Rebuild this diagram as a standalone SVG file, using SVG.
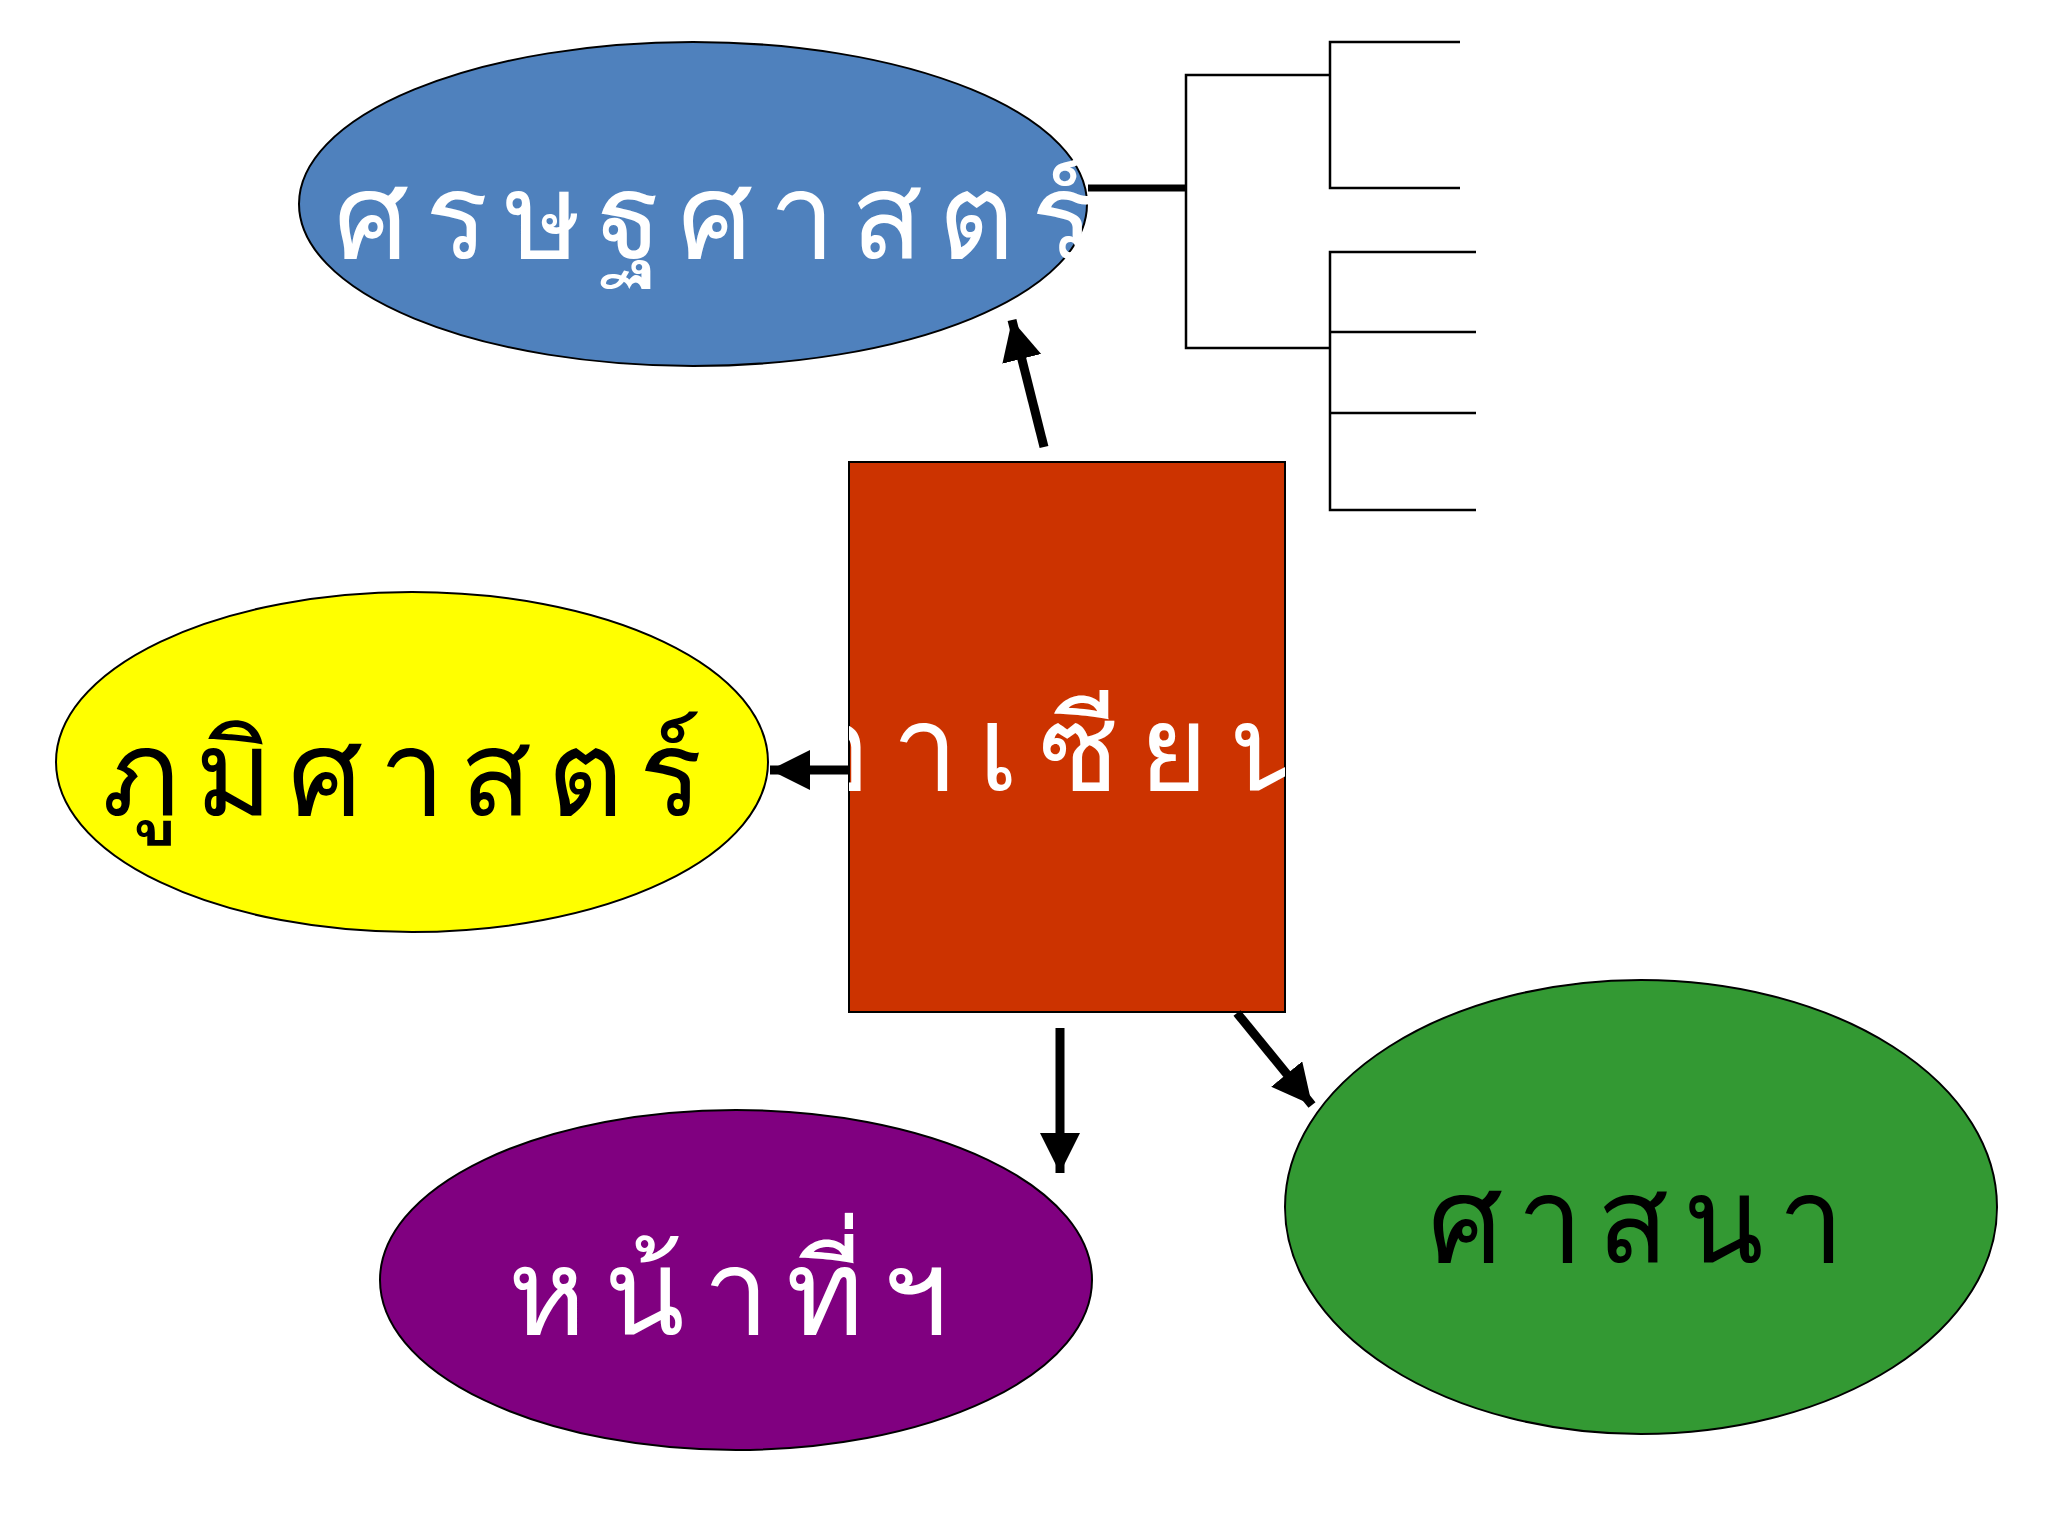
<svg xmlns="http://www.w3.org/2000/svg" width="2048" height="1536" viewBox="0 0 2048 1536">
<style>
.lbl{font-family:"Noto Sans","DejaVu Sans",sans-serif;font-size:118px}
.ln{stroke:#000;stroke-width:2.5;fill:none}
.arr{stroke:#000;stroke-width:9;fill:none;marker-end:url(#ah)}
</style>
<defs>
<marker id="ah" markerUnits="userSpaceOnUse" markerWidth="50" markerHeight="50" refX="40" refY="20" orient="auto">
<path d="M0,0 L40,20 L0,40 Z" fill="#000"/>
</marker>
<clipPath id="rc"><rect x="849" y="462" width="436" height="550"/></clipPath>
</defs>
<rect width="2048" height="1536" fill="#fff"/>
<g id="tree">
<line class="ln" x1="1088" y1="188" x2="1186" y2="188" style="stroke-width:7"/>
<polyline class="ln" points="1330,75 1186,75 1186,348 1330,348"/>
<polyline class="ln" points="1460,42 1330,42 1330,188 1460,188"/>
<polyline class="ln" points="1476,252 1330,252 1330,510 1476,510"/>
<line class="ln" x1="1330" y1="332" x2="1476" y2="332"/>
<line class="ln" x1="1330" y1="413" x2="1476" y2="413"/>
</g>
<g id="economics">
<ellipse cx="693" cy="204" rx="394" ry="162" fill="#4f81bd" stroke="#000" stroke-width="2"/>
<text class="lbl" x="334" y="258" fill="#fff" textLength="760" lengthAdjust="spacing">ศรษฐศาสตร์</text>
</g>
<g id="geography">
<ellipse cx="412" cy="762" rx="356" ry="170" fill="#ffff00" stroke="#000" stroke-width="2"/>
<text class="lbl" x="102" y="815" fill="#000" textLength="600" lengthAdjust="spacing">ภูมิศาสตร์</text>
</g>
<g id="asean">
<rect x="849" y="462" width="436" height="550" fill="#cc3300" stroke="#000" stroke-width="2"/>
<text class="lbl" x="800" y="790" fill="#fff" clip-path="url(#rc)" textLength="510" lengthAdjust="spacing">อาเซียน</text>
</g>
<g id="duties">
<ellipse cx="736" cy="1280" rx="356" ry="170" fill="#800080" stroke="#000" stroke-width="2"/>
<text class="lbl" x="508" y="1334" fill="#fff" textLength="440" lengthAdjust="spacing">หน้าที่ฯ</text>
</g>
<g id="religion">
<ellipse cx="1641" cy="1207" rx="356" ry="227" fill="#339933" stroke="#000" stroke-width="2"/>
<text class="lbl" x="1428" y="1262" fill="#000" textLength="416" lengthAdjust="spacing">ศาสนา</text>
</g>
<g id="connectors">
<line class="arr" x1="849" y1="770" x2="770" y2="770"/>
<line class="arr" x1="1044" y1="447" x2="1012" y2="320"/>
<line class="arr" x1="1060" y1="1028" x2="1060" y2="1173"/>
<line class="arr" x1="1237" y1="1013" x2="1312" y2="1105"/>
</g>
</svg>
